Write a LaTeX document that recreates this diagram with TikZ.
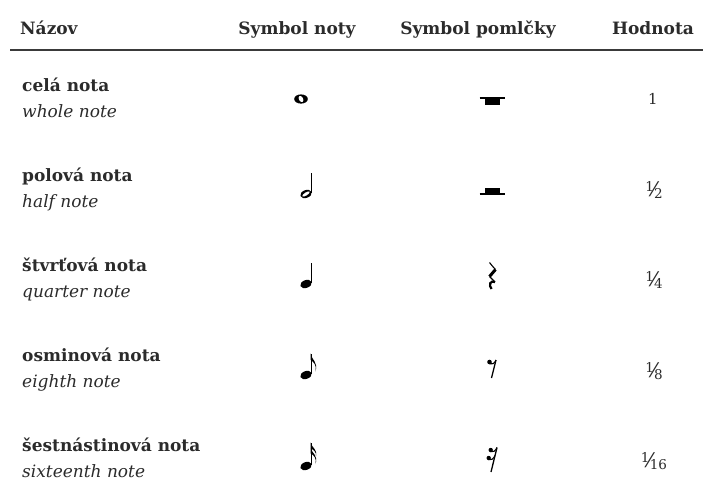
\documentclass[tikz,border=0pt]{standalone}
\usepackage{fontspec}
\setmainfont{DejaVu Serif}
\definecolor{txt}{HTML}{2B2B2B}
\definecolor{rule}{HTML}{3A3A3A}
\newcommand\myfrac[2]{\raisebox{5pt}{\fontsize{13.5}{13.5}\selectfont #1}\kern-1.5pt{\fontsize{20}{20}\selectfont\char"2044}\kern-1.5pt\raisebox{-1.5pt}{\fontsize{13.5}{13.5}\selectfont #2}}
\tikzset{
  hdr/.style={font=\fontsize{17}{20}\selectfont\bfseries, text=txt, inner sep=0pt},
  nm/.style={font=\fontsize{17}{20}\selectfont\bfseries, text=txt, inner sep=0pt, anchor=base west},
  en/.style={font=\fontsize{17}{20}\selectfont\itshape, text=txt, inner sep=0pt, anchor=base west},
  val/.style={font=\fontsize{15}{18}\selectfont, text=txt, inner sep=0pt},
  wholenote/.pic={
    \fill (0,0) ellipse [x radius=6.8, y radius=4.6];
    \fill[white, rotate=-60] (0,0) ellipse [x radius=3.3, y radius=2.1];
  },
  halfnote/.pic={
    \fill[rotate=20] (0,0) ellipse [x radius=5.9, y radius=3.9];
    \fill[white, rotate=32] (0,0) ellipse [x radius=4.3, y radius=1.5];
    \draw[line width=1.2pt] (5.2,-1) -- (5.2,-21);
  },
  quarternote/.pic={
    \fill[rotate=20] (0,0) ellipse [x radius=5.9, y radius=3.9];
    \draw[line width=1.2pt] (5.2,-1) -- (5.2,-21);
  },
  eighthnote/.pic={
    \fill[rotate=20] (0,0) ellipse [x radius=5.9, y radius=3.9];
    \draw[line width=1.2pt] (5.2,-1) -- (5.2,-21);
    \fill (4.7,-21.5) .. controls (5.5,-15) and (12.5,-13) .. (9.5,-3.5)
      .. controls (11,-10) and (7.5,-13) .. (4.7,-15) -- cycle;
  },
  sixteenthnote/.pic={
    \fill[rotate=20] (0,0) ellipse [x radius=5.9, y radius=3.9];
    \draw[line width=1.2pt] (5.2,-1) -- (5.2,-23);
    \fill (4.7,-23.5) .. controls (5.5,-18.5) and (11.5,-17) .. (10,-10)
      .. controls (10.5,-14) and (7.5,-16.5) .. (4.7,-18) -- cycle;
    \fill (4.7,-18) .. controls (5.5,-13) and (12.5,-11) .. (9.5,-2)
      .. controls (11,-8) and (7.5,-11) .. (4.7,-12.5) -- cycle;
  },
  wholerest/.pic={
    \fill (-7.5,0) rectangle (7.5,6.5);
    \draw[line width=1.4pt] (-12.5,0) -- (12.5,0);
  },
  halfrest/.pic={
    \fill (-7.5,-6) rectangle (7.5,0);
    \draw[line width=1.4pt] (-12.5,0) -- (12.5,0);
  },
  quarterrest/.pic={
    \draw[line width=1.1pt] (-2.5,-13.5) .. controls (-1,-11) and (1.5,-9) .. (3.5,-6.5);
    \draw[line width=3pt] (3.5,-6.5) -- (-2.5,0.5);
    \draw[line width=1.1pt] (-2.5,0.5) -- (3,6);
    \draw[line width=2.2pt] (3,6) .. controls (-2,4) and (-3.5,9) .. (-0.5,13);
  },
  eighthrest/.pic={
    \fill (-2.5,-6) circle (2.3);
    \draw[line width=1.1pt] (-2.5,-4.2) .. controls (0,-3) and (2.5,-4.5) .. (4,-8);
    \draw[line width=1.3pt] (4,-8) -- (-0.5,10);
  },
  sixteenthrest/.pic={
    \fill (-1.3,-9) circle (2.2);
    \draw[line width=1.1pt] (-1.3,-7.3) .. controls (1,-6.5) and (3.5,-8) .. (5,-11.5);
    \fill (-3.3,-1) circle (2.2);
    \draw[line width=1.1pt] (-3.3,0.7) .. controls (-1,1.5) and (1.5,0) .. (3,-3.5);
    \draw[line width=1.3pt] (5,-11.5) -- (-1,13);
  },
}
\begin{document}
\begin{tikzpicture}[x=1pt,y=-1pt]
\useasboundingbox[fill=white] (0,0) rectangle (703,496);
% header
\node[hdr, anchor=base west] (h1) at (20,34) {Názov};
\node[hdr, anchor=base] (h2) at (297,34) {Symbol noty};
\node[hdr, anchor=base] (h3) at (478,34) {Symbol pomlčky};
\node[hdr, anchor=base] (h4) at (653,34) {Hodnota};
\coordinate (ruleL) at (10,50);
\coordinate (ruleR) at (703,50);
\draw[line width=2pt, rule] (ruleL) -- (ruleR);
% names
\node[nm] (n1) at (22,91) {celá nota};
\node[en] (e1) at (22,117) {whole note};
\node[nm] (n2) at (22,181) {polová nota};
\node[en] (e2) at (22,207) {half note};
\node[nm] (n3) at (22,271) {štvrťová nota};
\node[en] (e3) at (22,297) {quarter note};
\node[nm] (n4) at (22,361) {osminová nota};
\node[en] (e4) at (22,387) {eighth note};
\node[nm] (n5) at (22,451) {šestnástinová nota};
\node[en] (e5) at (22,477) {sixteenth note};
% notes
\pic at (301,99) {wholenote};
\pic at (306,194) {halfnote};
\pic at (306,284) {quarternote};
\pic at (306,375) {eighthnote};
\pic at (306,466) {sixteenthnote};
% rests
\pic at (492,98) {wholerest};
\pic at (492,194) {halfrest};
\pic at (492,276) {quarterrest};
\pic at (492,368) {eighthrest};
\pic at (492,459) {sixteenthrest};
% values
\node[val] (v1) at (653,99) {1};
\node[val] (v2) at (654,190) {\myfrac{1}{2}};
\node[val] (v3) at (654,280) {\myfrac{1}{4}};
\node[val] (v4) at (654,371) {\myfrac{1}{8}};
\node[val] (v5) at (654,461) {\myfrac{1}{16}};
\end{tikzpicture}
\end{document}
